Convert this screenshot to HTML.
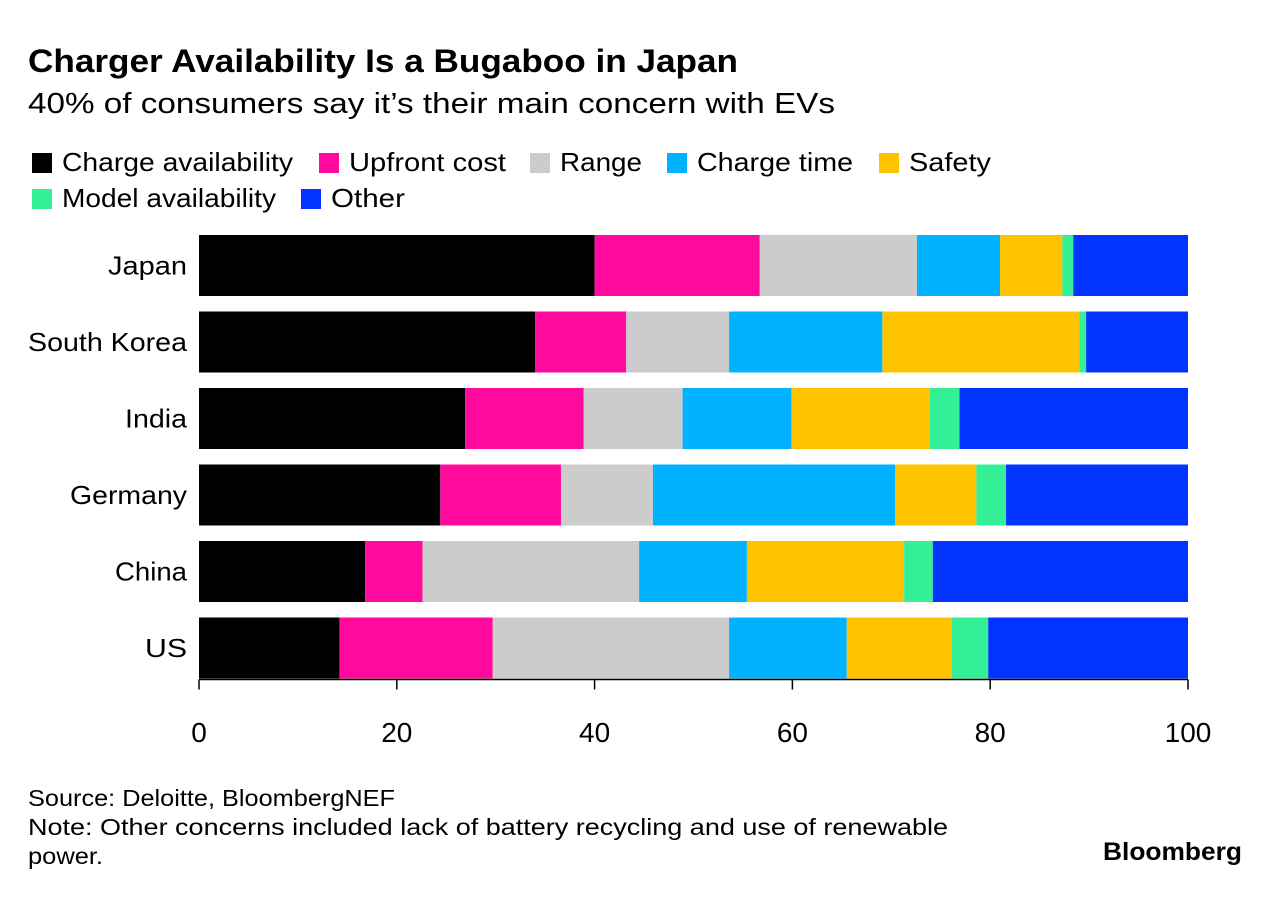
<!DOCTYPE html>
<html><head><meta charset="utf-8"><style>
body{margin:0;background:#fff;font-family:"Liberation Sans",sans-serif;}
svg text{font-family:"Liberation Sans",sans-serif;}
</style></head><body>
<svg id="c" width="1281" height="894" xmlns="http://www.w3.org/2000/svg">
<text x="28" y="72" font-size="32" font-weight="bold" fill="#000" textLength="710" lengthAdjust="spacingAndGlyphs">Charger Availability Is a Bugaboo in Japan</text>
<text x="28" y="113" font-size="29" fill="#000" textLength="807" lengthAdjust="spacingAndGlyphs">40% of consumers say it’s their main concern with EVs</text>
<g id="legend"></g>
<g id="bars"></g>
<g id="axis"></g>
<text x="28" y="806" font-size="23" fill="#000" textLength="367" lengthAdjust="spacingAndGlyphs">Source: Deloitte, BloombergNEF</text>
<text x="28" y="835" font-size="23" fill="#000" textLength="920" lengthAdjust="spacingAndGlyphs">Note: Other concerns included lack of battery recycling and use of renewable</text>
<text x="28" y="864" font-size="23" fill="#000" textLength="75" lengthAdjust="spacingAndGlyphs">power.</text>
<text x="1103" y="860" font-size="25" font-weight="bold" fill="#000" textLength="139" lengthAdjust="spacingAndGlyphs">Bloomberg</text>
</svg>
<script>
const categories=["Japan","South Korea","India","Germany","China","US"];
const seriesNames=["Charge availability","Upfront cost","Range","Charge time","Safety","Model availability","Other"];
const chargeAvailability=[40,34,26.9,24.4,16.8,14.2];
const upfrontCost=[16.7,9.2,12,12.2,5.8,15.5];
const range=[15.9,10.4,10,9.3,21.9,23.9];
const chargeTime=[8.4,15.5,11,24.5,10.9,11.9];
const safety=[6.3,19.9,14,8.2,15.9,10.6];
const modelAvailability=[1.1,0.7,3,3,2.9,3.7];
const other=[11.6,10.3,23.1,18.4,25.8,20.2];
const tickValues=[0,20,40,60,80,100];
const series=[chargeAvailability,upfrontCost,range,chargeTime,safety,modelAvailability,other];
const colors=["#000000","#ff0a9c","#cccccc","#00b2ff","#ffc300","#33f097","#0334ff"];
const NS="http://www.w3.org/2000/svg";
const x0=199,x1=1188,yTop=235,pitch=76.5,bh=61;
const xs=v=>x0+(x1-x0)*v/100;
function mk(t,a){const e=document.createElementNS(NS,t);for(const k in a)e.setAttribute(k,a[k]);return e;}
const lg=document.getElementById('legend');
const lpos=[[32,162],[319,162],[530,162],[667,162],[879,162],[32,198],[301,198]];
const lw=[231,157,82,156,82,214,74];
seriesNames.forEach((n,i)=>{
 const r=mk('rect',{x:lpos[i][0],y:lpos[i][1]-9,width:20,height:20,fill:colors[i]});
 
 
 lg.appendChild(r);
 const t=mk('text',{x:lpos[i][0]+30,y:lpos[i][1]+9,'font-size':26,fill:'#000',textLength:lw[i],lengthAdjust:'spacingAndGlyphs'});
 t.textContent=n;
 
 
 lg.appendChild(t);
});
const cw=[79,159,62,117,72,42];
const bg=document.getElementById('bars');
categories.forEach((c,ci)=>{
 const y=yTop+ci*pitch;
 let acc=0;
 series.forEach((s,si)=>{
  const v=s[ci];
  const r=mk('rect',{x:xs(acc),y:y,width:xs(acc+v)-xs(acc),height:bh,fill:colors[si]});
  
  
  bg.appendChild(r);
  acc+=v;
 });
 const t=mk('text',{x:187-cw[ci],y:y+bh/2+9,'font-size':26,fill:'#000',textLength:cw[ci],lengthAdjust:'spacingAndGlyphs'});
 t.textContent=c;
 
 
 bg.appendChild(t);
});
const ax=document.getElementById('axis');
const base=yTop+5*pitch+bh+1;
const l=mk('line',{x1:x0,x2:x1,y1:base,y2:base,stroke:'#000','stroke-width':1.5});


ax.appendChild(l);
tickValues.forEach(v=>{
 const tk=mk('line',{x1:xs(v),x2:xs(v),y1:base,y2:base+10,stroke:'#000','stroke-width':1.5});
 
 
 ax.appendChild(tk);
 const t=mk('text',{x:xs(v),y:742,'font-size':28,'text-anchor':'middle',fill:'#000'});
 t.textContent=v;
 
 
 ax.appendChild(t);
});
</script>
</body></html>
